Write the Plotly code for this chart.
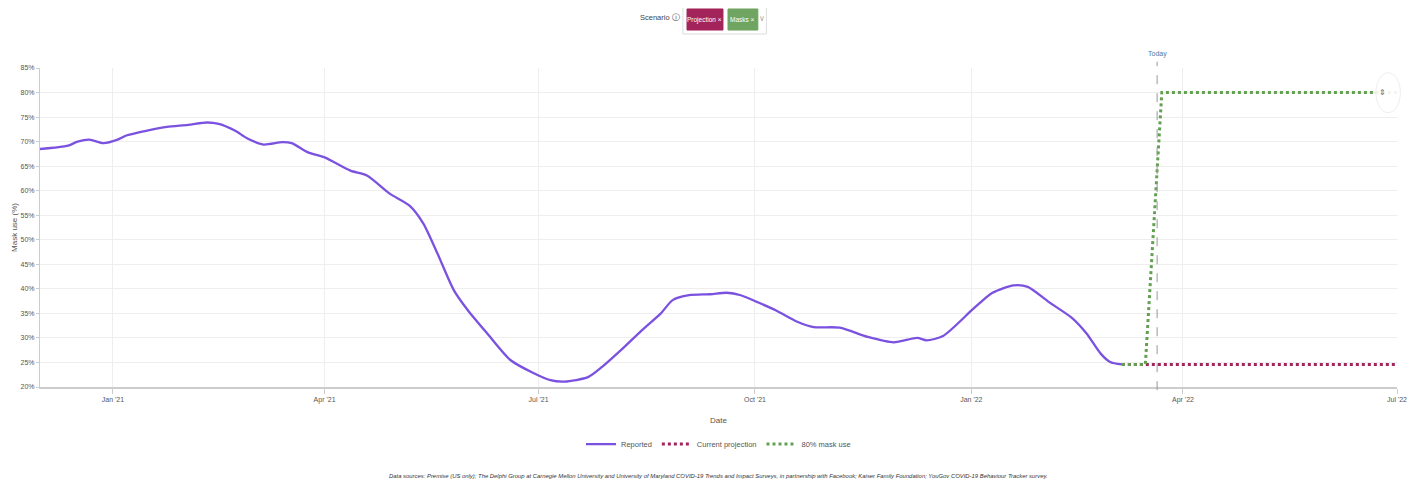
import plotly.graph_objects as go

# ---------------- data ----------------
reported_dates = [
    "2020-12-01", "2020-12-13", "2020-12-17", "2020-12-22", "2020-12-28", "2021-01-03",
    "2021-01-07", "2021-01-16", "2021-01-24", "2021-02-02", "2021-02-10", "2021-02-15",
    "2021-02-22", "2021-02-27", "2021-03-06", "2021-03-14", "2021-03-18", "2021-03-25",
    "2021-04-01", "2021-04-12", "2021-04-19", "2021-04-29", "2021-05-07", "2021-05-13",
    "2021-05-19", "2021-05-26", "2021-06-01", "2021-06-09", "2021-06-19", "2021-06-29",
    "2021-07-06", "2021-07-12", "2021-07-22", "2021-07-28", "2021-08-05", "2021-08-14",
    "2021-08-22", "2021-08-27", "2021-09-03", "2021-09-12", "2021-09-19", "2021-09-25",
    "2021-10-02", "2021-10-10", "2021-10-19", "2021-10-26", "2021-11-06", "2021-11-18",
    "2021-11-29", "2021-12-09", "2021-12-13", "2021-12-20", "2022-01-02", "2022-01-10",
    "2022-01-19", "2022-01-25", "2022-02-03", "2022-02-13", "2022-02-19", "2022-02-25",
    "2022-03-01", "2022-03-06",
]
reported_values = [
    68.5, 69.2, 70.0, 70.4, 69.7, 70.4,
    71.3, 72.3, 73.0, 73.4, 73.9, 73.6,
    72.2, 70.7, 69.4, 69.9, 69.7, 67.8,
    66.8, 64.1, 63.1, 59.3, 57.0, 53.3,
    47.2, 39.7, 35.6, 31.0, 25.5, 22.8,
    21.4, 21.1, 22.0, 24.1, 27.5, 31.6,
    35.0, 37.7, 38.7, 38.9, 39.2, 38.7,
    37.3, 35.6, 33.3, 32.2, 32.1, 30.2,
    29.1, 30.0, 29.5, 30.4, 36.0, 39.2,
    40.7, 40.4, 37.3, 34.0, 30.9, 26.8,
    25.1, 24.6,
]

projection_dates = ["2022-03-06", "2022-07-01"]
projection_values = [24.6, 24.6]

mask80_dates = ["2022-03-06", "2022-03-16", "2022-03-23", "2022-07-01"]
mask80_values = [24.6, 24.6, 80.0, 80.0]

today_date = "2022-03-21"

x_tick_dates = ["2021-01-01", "2021-04-01", "2021-07-01", "2021-10-01",
                "2022-01-01", "2022-04-01", "2022-07-01"]
x_tick_labels = ["Jan '21", "Apr '21", "Jul '21", "Oct '21", "Jan '22", "Apr '22", "Jul '22"]
y_tick_values = [20, 25, 30, 35, 40, 45, 50, 55, 60, 65, 70, 75, 80, 85]
y_tick_labels = [f"{v}%" for v in y_tick_values]

series_names = ["Reported", "Current projection", "80% mask use"]
scenario_pills = ["Projection ×", "Masks ×"]
footer = ("Data sources: Premise (US only); The Delphi Group at Carnegie Mellon University and "
          "University of Maryland COVID-19 Trends and Impact Surveys, in partnership with Facebook; "
          "Kaiser Family Foundation; YouGov COVID-19 Behaviour Tracker survey.")

# ---------------- style ----------------
PURPLE = "#7B52E0"
MAGENTA = "#A3245A"
GREEN = "#63A052"
FONT = "Liberation Sans Narrow, Arial Narrow, Liberation Sans, Arial, sans-serif"

fig = go.Figure()
fig.add_trace(go.Scatter(x=reported_dates, y=reported_values, mode="lines", name=series_names[0],
                         line=dict(color=PURPLE, width=2.3, shape="spline", smoothing=0.7)))
fig.add_trace(go.Scatter(x=projection_dates, y=projection_values, mode="lines", name=series_names[1],
                         line=dict(color=MAGENTA, width=3, dash="dot")))
fig.add_trace(go.Scatter(x=mask80_dates, y=mask80_values, mode="lines", name=series_names[2],
                         line=dict(color=GREEN, width=3, dash="dot")))

# today line
fig.add_shape(type="line", xref="x", yref="paper", x0=today_date, x1=today_date, y0=-0.01, y1=1.02,
              line=dict(color="#999999", width=1, dash="dash"))
fig.add_annotation(x=today_date, xref="x", yref="paper", y=1.025, yanchor="bottom", text="Today",
                   showarrow=False, font=dict(size=7, color="#557799", family=FONT))

# scenario control (top)
fig.add_annotation(xref="paper", yref="paper", x=0.4728, y=1.157, xanchor="right", yanchor="middle",
                   text="Scenario ⓘ", showarrow=False, font=dict(size=7.5, color="#444444", family=FONT))
fig.add_shape(type="rect", xref="paper", yref="paper", x0=0.4738, x1=0.5353, y0=1.1066, y1=1.1975,
              line=dict(color="#dddddd", width=1), fillcolor="white")
fig.add_shape(type="rect", xref="paper", yref="paper", x0=0.4768, x1=0.5033, y0=1.119, y1=1.185,
              line=dict(color=MAGENTA, width=1), fillcolor=MAGENTA)
fig.add_shape(type="rect", xref="paper", yref="paper", x0=0.5070, x1=0.5290, y0=1.119, y1=1.185,
              line=dict(color="#6FA561", width=1), fillcolor="#6FA561")
fig.add_annotation(xref="paper", yref="paper", x=0.49005, y=1.152, yanchor="middle", text=scenario_pills[0],
                   showarrow=False, font=dict(size=6.5, color="white", family=FONT))
fig.add_annotation(xref="paper", yref="paper", x=0.518, y=1.152, yanchor="middle", text=scenario_pills[1],
                   showarrow=False, font=dict(size=6.5, color="white", family=FONT))
fig.add_annotation(xref="paper", yref="paper", x=0.5318, y=1.155, yanchor="middle", text="∨",
                   showarrow=False, font=dict(size=8, color="#aaaaaa", family=FONT))

# small round handle near the right end
fig.add_shape(type="circle", xref="paper", yref="paper", x0=0.9845, x1=1.0025, y0=0.86, y1=0.985,
              line=dict(color="#eeeeee", width=1), fillcolor="rgba(255,255,255,0.9)")
fig.add_annotation(xref="paper", yref="paper", x=0.9935, y=0.9225, yanchor="middle", text="⇕",
                   showarrow=False, font=dict(size=8, color="#666666", family=FONT))

# footer
fig.add_annotation(xref="paper", yref="paper", x=0.5, y=-0.279, yanchor="middle", text=f"<i>{footer}</i>",
                   showarrow=False, font=dict(size=5.9, color="#333333", family=FONT))

fig.update_layout(
    width=1408, height=477,
    margin=dict(l=32, r=19, t=60, b=98),
    plot_bgcolor="white", paper_bgcolor="white",
    font=dict(family=FONT, size=8, color="#555555"),
    showlegend=True,
    legend=dict(orientation="h", x=0.5, xanchor="center", y=-0.179, yanchor="middle",
                font=dict(size=7.5, color="#555555"), itemwidth=30),
    xaxis=dict(
        range=["2020-12-01", "2022-07-01"], type="date", automargin=False,
        tickvals=x_tick_dates, ticktext=x_tick_labels,
        showgrid=True, gridcolor="#eeeeee", gridwidth=1,
        showline=True, linecolor="#cccccc", linewidth=2,
        ticks="outside", ticklen=5, tickcolor="#cccccc",
        tickfont=dict(size=7, color="#555555"),
        title=dict(text="Date", font=dict(size=8, color="#555555"), standoff=14),
        zeroline=False,
    ),
    yaxis=dict(
        range=[20, 85], tickvals=y_tick_values, ticktext=y_tick_labels, automargin=False,
        showgrid=True, gridcolor="#eeeeee", gridwidth=1,
        showline=True, linecolor="#cccccc", linewidth=1,
        ticks="outside", ticklen=3, tickcolor="#cccccc",
        tickfont=dict(size=7, color="#555555"),
        title=dict(text="Mask use (%)", font=dict(size=8, color="#555555"), standoff=1),
        zeroline=False,
    ),
)

fig.write_html("out.html")
